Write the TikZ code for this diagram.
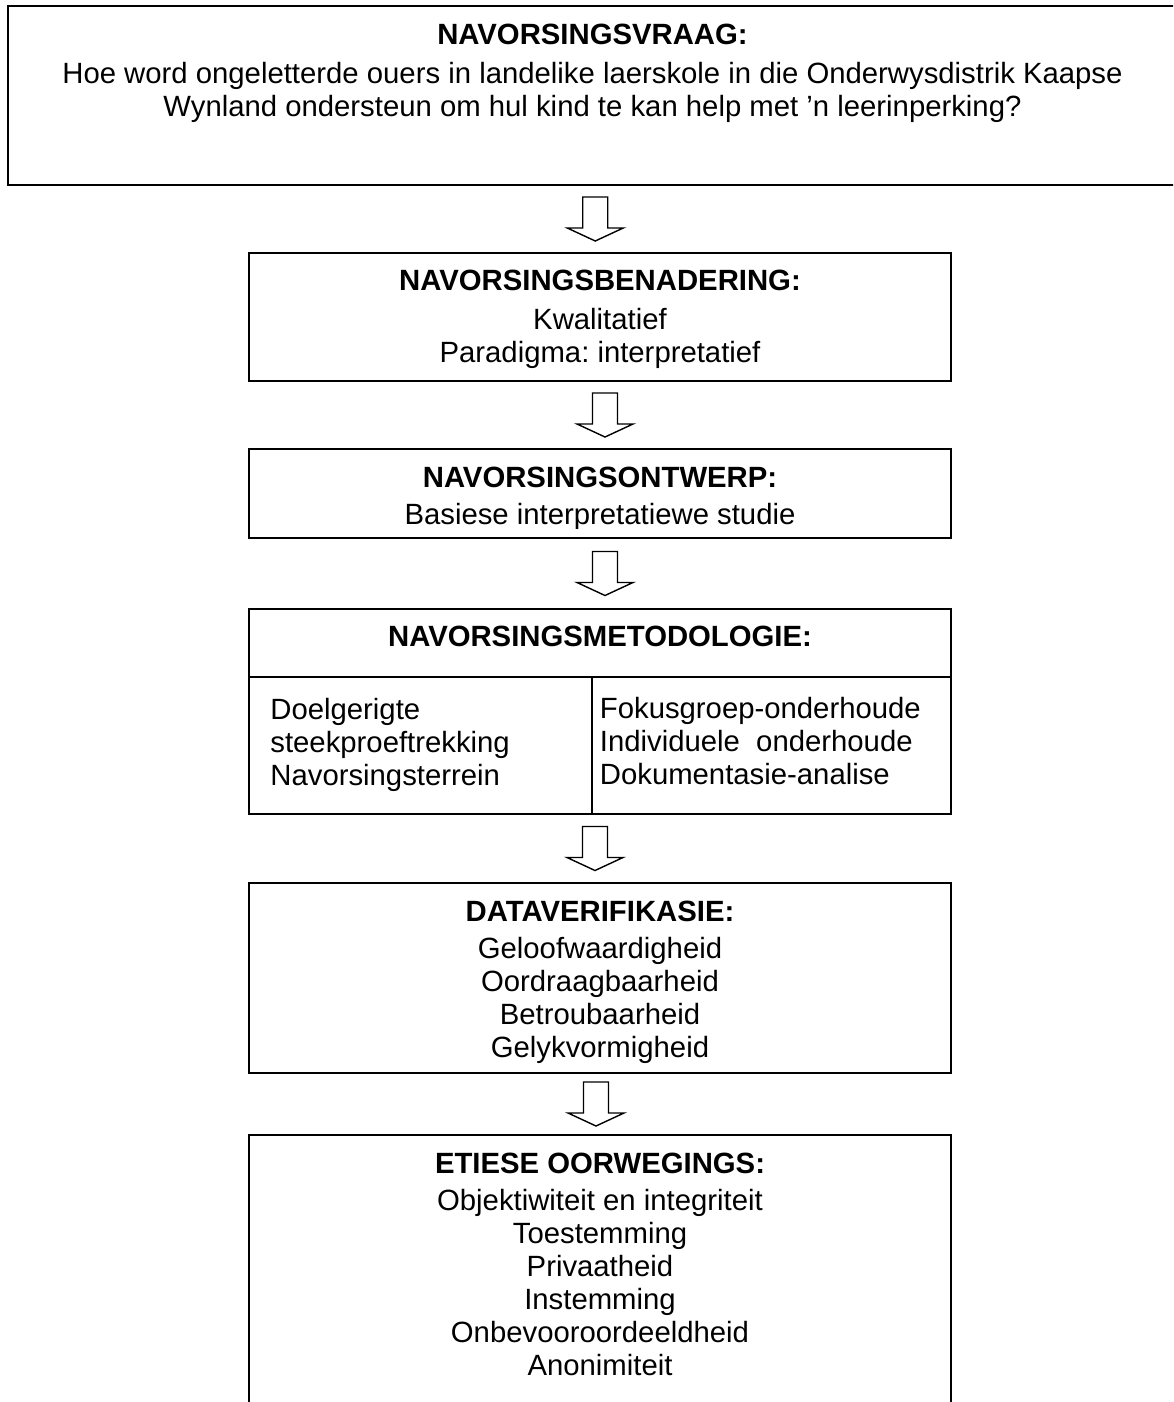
\documentclass[tikz,border=0pt]{standalone}
\usepackage{fontspec}
\setmainfont{Liberation Sans}
\usetikzlibrary{positioning,calc}
\frenchspacing
\newcommand\bodysize{\fontsize{14.65pt}{16.5pt}\selectfont}
\tikzset{
  box/.style={draw=black,line width=1pt,inner sep=0pt,outer sep=0pt,
    minimum width=351pt},
  boxtxt/.style={align=center,inner sep=0pt,anchor=north,font=\bodysize},
  coltxt/.style={align=left,inner sep=0pt,anchor=north west,font=\bodysize},
  rule/.style={line width=0.8pt},
  blockarr/.style={draw=black,line width=0.7pt,fill=white,line join=miter},
}
\begin{document}
\begin{tikzpicture}[x=0.5pt,y=-0.5pt]
  \useasboundingbox (0,0) rectangle (1173,1402);
  \clip (0,0) rectangle (1173,1402);
  % boxes, top to bottom (top and last box run off the page)
  \node[box,minimum width=584.5pt,minimum height=89.5pt] (vraag) at (592.5,95.5) {};
  \node[box,minimum height=64pt] (benad) at (600,317) {};
  \node[box,minimum height=44.5pt] (ontwerp) at (600,493.5) {};
  \node[box,minimum height=102.5pt] (metod) at (600,711.5) {};
  \node[box,minimum height=95pt] (verif) at (600,978) {};
  \node[box,minimum height=150pt] (etiese) at (600,1285) {};
  % --- texts ---
  \node[boxtxt] (vraag-t) at ($(vraag.north)+(0,18)$)
    {{\bfseries NAVORSINGSVRAAG:}\\[3pt]
     Hoe word ongeletterde ouers in landelike laerskole in die Onderwysdistrik Kaapse\\
     Wynland ondersteun om hul kind te kan help met ’n leerinperking?};
  \node[boxtxt] (benad-t) at ($(benad.north)+(0,17)$)
    {{\bfseries NAVORSINGSBENADERING:}\\[3pt] Kwalitatief\\ Paradigma: interpretatief};
  \begin{scope}
    \clip (ontwerp.north west) rectangle ($(ontwerp.east)+(0,34.5)$);
    \node[boxtxt] (ontwerp-t) at ($(ontwerp.north)+(0,18)$)
      {{\bfseries NAVORSINGSONTWERP:}\\[2pt] Basiese interpretatiewe studie};
  \end{scope}
  % methodology box split in a head row and two columns
  \coordinate (split) at (592,677);
  \draw[rule] (metod.west |- split) -- (metod.east |- split);
  \draw[rule] (split) -- (split |- metod.south);
  \node[boxtxt] (metod-t) at ($(metod.north)+(0,17)$) {\bfseries NAVORSINGSMETODOLOGIE:};
  \node[coltxt] (metod-l) at (270,698)
    {Doelgerigte\\ steekproeftrekking\\ Navorsingsterrein};
  \node[coltxt] (metod-r) at (599.5,697)
    {Fokusgroep-onderhoude\\ Individuele\ \ onderhoude\\ Dokumentasie-analise};
  \node[boxtxt] (verif-t) at ($(verif.north)+(0,17.5)$)
    {{\bfseries DATAVERIFIKASIE:}\\[2pt] Geloofwaardigheid\\ Oordraagbaarheid\\
     Betroubaarheid\\ Gelykvormigheid};
  \node[boxtxt] (etiese-t) at ($(etiese.north)+(0,17.5)$)
    {{\bfseries ETIESE OORWEGINGS:}\\[2pt] Objektiwiteit en integriteit\\ Toestemming\\
     Privaatheid\\ Instemming\\ Onbevooroordeeldheid\\ Anonimiteit};
  % hollow block arrows between the boxes
  \foreach \a/\b/\dx in {vraag/benad/-1, benad/ontwerp/5, ontwerp/metod/5,
      metod/verif/-5, verif/etiese/-4}{
    \coordinate (m) at ($(\a.south)!0.5!(\b.north)+(\dx,0)$);
    \draw[blockarr] ($(m)+(-12.5,-22)$) -- ($(m)+(12.5,-22)$) -- ($(m)+(12.5,9)$)
      -- ($(m)+(28,9)$) -- ($(m)+(0,22)$) -- ($(m)+(-28,9)$) -- ($(m)+(-12.5,9)$) -- cycle;
  }
\end{tikzpicture}
\end{document}
